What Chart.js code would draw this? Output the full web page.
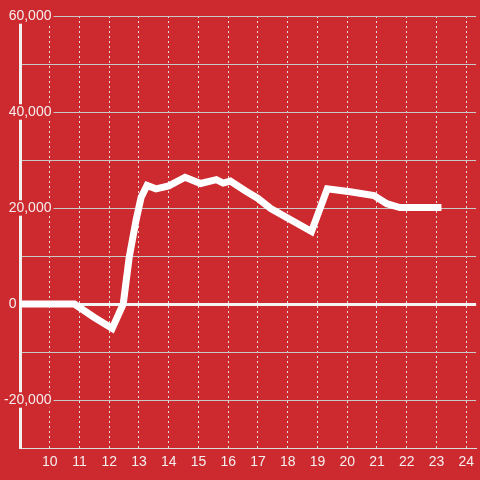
<!DOCTYPE html>
<html>
<head>
<meta charset="utf-8">
<script src="https://cdn.jsdelivr.net/npm/chart.js@4"></script>
<style>
  html, body { margin: 0; padding: 0; background: #cc2a2f; }
  canvas { display: block; }
</style>
</head>
<body>
<canvas id="chart" width="480" height="480"></canvas>
<script>
// =================== DATA ===================
const hours = [9, 10.83, 11.5, 12.1, 12.47, 12.67, 12.9, 13.07, 13.27, 13.57, 14, 14.55, 15.07, 15.6, 15.83, 16.07, 16.57, 17, 17.43, 18.8, 19.33, 20.1, 20.9, 21.33, 21.77, 23.05];
const values = [0, 0, -2800, -5100, 0, 9700, 17400, 22200, 24700, 24000, 24600, 26400, 25100, 25900, 25200, 25600, 23600, 22000, 19900, 15100, 24000, 23400, 22600, 20900, 20100, 20100];

const xMin = 9;
const xMax = 24 + 1 / 3;
const yMin = -30000;
const yMax = 60000;
const yLabelEvery = 20000;

const font = { family: '"Liberation Sans", Arial, sans-serif', size: 14, lineHeight: 1.1 };

// =================== CHART ===================
const isLabelled = (v) => v !== 0 && v % yLabelEvery === 0;

new Chart(document.getElementById("chart"), {
	type: "line",
	data: {
		datasets: [
			{
				data: hours.map((h, i) => ({ x: h, y: values[i] })),
				borderColor: "#ffffff",
				borderWidth: 7,
				borderCapStyle: "square",
				pointRadius: 0,
				tension: 0,
			},
		],
	},
	options: {
		responsive: false,
		animation: false,
		layout: { padding: { top: 16, left: 0, right: 0, bottom: 0 } },
		plugins: {
			legend: { display: false },
			tooltip: { enabled: false },
		},
		scales: {
			x: {
				type: "linear",
				min: xMin,
				max: xMax,
				afterFit: (s) => {
					s.height = 32;
				},
				grid: { color: "#e0e0e0", lineWidth: 1, drawTicks: false },
				border: { color: "#dddddd", width: 1, dash: [2, 3] },
				ticks: {
					stepSize: 1,
					includeBounds: false,
					padding: 6,
					color: "#f4eeee",
					font,
					callback: (v) => (v === xMin || !Number.isInteger(v) ? null : String(v)),
				},
			},
			y: {
				min: yMin,
				max: yMax,
				afterFit: (s) => {
					s.width = 20;
				},
				grid: {
					color: (ctx) => (ctx.tick.value === 0 ? "#f4f4f4" : "#c8c8c8"),
					lineWidth: (ctx) => (ctx.tick.value === 0 ? 3 : 1),
					drawTicks: false,
				},
				border: { color: "#f0f0f0", width: 3 },
				ticks: {
					stepSize: 10000,
					mirror: true,
					crossAlign: "far",
					padding: -16,
					z: 1,
					color: "#f4eeee",
					font,
					showLabelBackdrop: (ctx) => isLabelled(ctx.tick.value),
					backdropColor: "#cc2a2f",
					backdropPadding: { x: 2, y: 0 },
					callback: (v) => {
						if (v === 0) return "0" + " ".repeat(9);
						return isLabelled(v) ? v.toLocaleString("en-US") : "";
					},
				},
			},
		},
	},
});
</script>
</body>
</html>
